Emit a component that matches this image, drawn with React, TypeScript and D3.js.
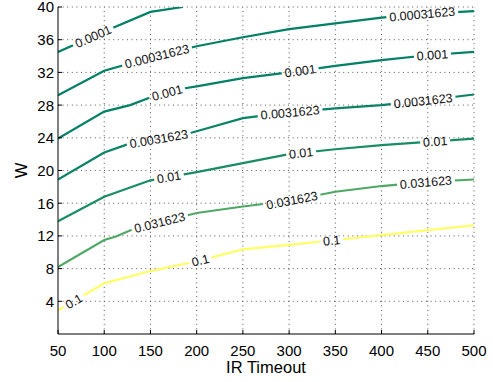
import React from "react";
import * as d3 from "d3";

// contour levels (MATLAB summer colormap, levels spaced in log10)
const levels = [0.0001, 0.00031623, 0.001, 0.0031623, 0.01, 0.031623, 0.1];
const levelNames = ["0.0001", "0.00031623", "0.001", "0.0031623", "0.01", "0.031623", "0.1"];

const xTicks = [50, 100, 150, 200, 250, 300, 350, 400, 450, 500];
const yTicks = [4, 8, 12, 16, 20, 24, 28, 32, 36, 40];

// contour paths, [IR Timeout, W]
const line0001 = [[50, 34.5], [100, 37.0], [150, 39.4], [185, 40]];
const line00031623 = [[50, 29.2], [100, 32.2], [150, 33.8], [200, 35.2], [250, 36.3], [300, 37.3], [350, 38.0], [400, 38.7], [450, 39.2], [500, 39.5]];
const line001 = [[50, 23.9], [100, 27.2], [128, 28.0], [151, 29.0], [184, 30.0], [200, 30.3], [250, 31.3], [300, 32.0], [350, 32.8], [400, 33.5], [450, 34.1], [500, 34.5]];
const line0031623 = [[50, 18.9], [100, 22.2], [125, 23.2], [190, 24.5], [200, 24.8], [250, 26.4], [300, 27.1], [350, 27.6], [400, 28.0], [450, 28.6], [500, 29.3]];
const line01 = [[50, 13.8], [100, 16.8], [150, 18.8], [200, 19.8], [250, 20.9], [300, 22.0], [350, 22.6], [400, 23.1], [450, 23.5], [500, 23.9]];
const line031623 = [[50, 8.2], [100, 11.5], [112, 11.9], [133, 12.9], [200, 14.8], [250, 15.6], [300, 16.3], [350, 17.4], [400, 18.1], [450, 18.6], [500, 18.9]];
const line1 = [[50, 2.9], [100, 6.2], [150, 7.7], [200, 8.9], [250, 10.35], [300, 10.9], [350, 11.5], [400, 12.1], [450, 12.7], [500, 13.3]];

const contourLines = [line0001, line00031623, line001, line0031623, line01, line031623, line1];

// x position of inline labels on each contour
const labelX = [
  [88],
  [157, 444],
  [168, 312, 455],
  [159, 301, 445],
  [170, 313, 458],
  [160, 303, 448],
  [67, 204, 346],
];

const W = 493;
const H = 382;
const margin = { top: 7, right: 19, bottom: 48, left: 58 };
const FONT = "'Liberation Sans', Arial, Helvetica, sans-serif";

const summer = (v: number) => {
  const t = (v - levels[0]) / (levels[levels.length - 1] - levels[0]);
  return d3.rgb(255 * t, 255 * (0.5 + t / 2), 0.4 * 255).formatHex();
};

export default function App() {
  const x = d3.scaleLinear().domain([50, 500]).range([margin.left, W - margin.right]);
  const y = d3.scaleLinear().domain([0, 40]).range([H - margin.bottom, margin.top]);
  const line = d3.line<number[]>().x((d) => x(d[0])).y((d) => y(d[1]));

  const labelFont = 12.5;
  const labels: { text: string; px: number; py: number; ang: number; w: number }[] = [];
  contourLines.forEach((pts, li) => {
    labelX[li].forEach((lx) => {
      let i = 0;
      while (i < pts.length - 2 && pts[i + 1][0] < lx) i++;
      const a = pts[i];
      const b = pts[i + 1];
      const t = (lx - a[0]) / (b[0] - a[0]);
      const ly = a[1] + t * (b[1] - a[1]);
      const ang = (Math.atan2(y(b[1]) - y(a[1]), x(b[0]) - x(a[0])) * 180) / Math.PI;
      const text = levelNames[li];
      labels.push({
        text,
        px: x(lx),
        py: y(ly),
        ang,
        w: text.length * labelFont * 0.56 + 2,
      });
    });
  });

  const x0 = margin.left;
  const x1 = W - margin.right;
  const y0 = H - margin.bottom;
  const y1 = margin.top;

  return (
    <svg width={W} height={H} style={{ position: "absolute", left: 0, top: 0, background: "#fff" }} fontFamily={FONT}>
      <defs>
        <mask id="gaps" maskUnits="userSpaceOnUse" x={0} y={0} width={W} height={H}>
          <rect x={0} y={0} width={W} height={H} fill="#fff" />
          {labels.map((l, i) => (
            <rect
              key={i}
              x={-l.w / 2}
              y={-6}
              width={l.w}
              height={12}
              fill="#000"
              transform={`translate(${l.px},${l.py}) rotate(${l.ang})`}
            />
          ))}
        </mask>
        <clipPath id="plot">
          <rect x={x0} y={y1} width={x1 - x0} height={y0 - y1} />
        </clipPath>
      </defs>

      {/* grid */}
      <g stroke="#555" strokeWidth={1} strokeDasharray="1,3.6">
        {xTicks.slice(1).map((t) => (
          <line key={t} x1={x(t)} x2={x(t)} y1={y0} y2={y1} />
        ))}
        {yTicks.map((t) => (
          <line key={t} x1={x0} x2={x1} y1={y(t)} y2={y(t)} />
        ))}
      </g>

      {/* contours */}
      <g mask="url(#gaps)" clipPath="url(#plot)" fill="none" strokeWidth={2.2}>
        {contourLines.map((pts, i) => (
          <path key={i} d={line(pts as number[][]) || ""} stroke={summer(levels[i])} />
        ))}
      </g>

      {labels.map((l, i) => (
        <text
          key={i}
          x={0}
          y={0}
          dy="0.36em"
          textAnchor="middle"
          fontSize={labelFont}
          fill="#111"
          transform={`translate(${l.px},${l.py}) rotate(${l.ang})`}
        >
          {l.text}
        </text>
      ))}

      {/* axes */}
      <g stroke="#000" strokeWidth={1}>
        <line x1={x0} x2={x1} y1={y0} y2={y0} />
        <line x1={x0} x2={x0} y1={y0} y2={y1} />
        {xTicks.map((t) => (
          <line key={t} x1={x(t)} x2={x(t)} y1={y0} y2={y0 - 4} />
        ))}
        {yTicks.map((t) => (
          <line key={t} x1={x0} x2={x0 + 4} y1={y(t)} y2={y(t)} />
        ))}
      </g>
      <g fontSize={15} fill="#000">
        {xTicks.map((t) => (
          <text key={t} x={x(t)} y={y0 + 22} textAnchor="middle">
            {t}
          </text>
        ))}
        {yTicks.map((t) => (
          <text key={t} x={x0 - 4} y={y(t)} dy="0.36em" textAnchor="end">
            {t}
          </text>
        ))}
      </g>
      <text x={(x0 + x1) / 2} y={H - 9} textAnchor="middle" fontSize={16.5}>
        IR Timeout
      </text>
      <text transform={`translate(27,${(y0 + y1) / 2}) rotate(-90)`} textAnchor="middle" fontSize={16.5}>
        W
      </text>
    </svg>
  );
}
